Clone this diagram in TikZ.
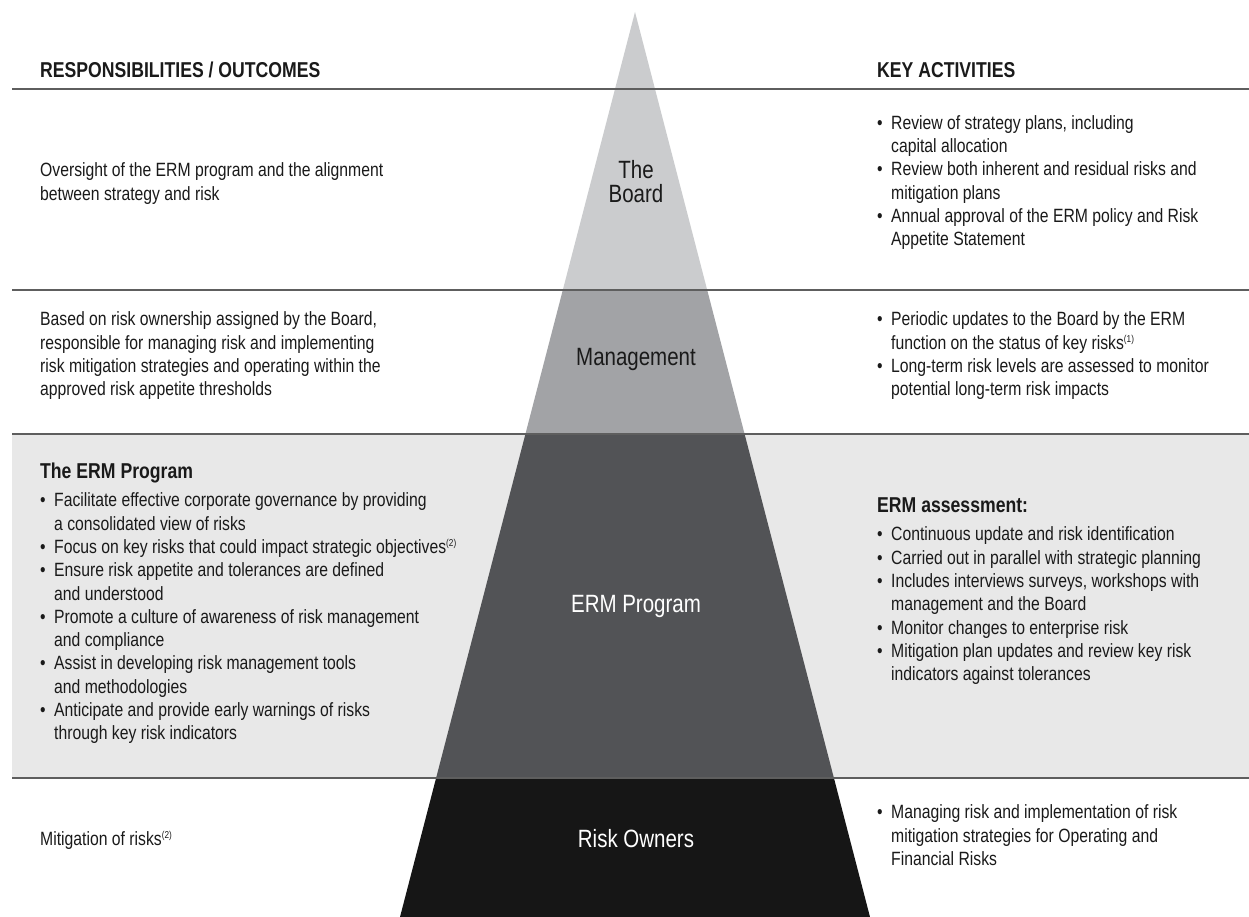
\documentclass[tikz,border=0pt]{standalone}
\usepackage{fontspec}
\setmainfont{Liberation Sans}[FakeStretch=0.82]
\usepackage{tikz}

\definecolor{boardfill}{HTML}{CBCCCE}
\definecolor{mgmtfill}{HTML}{A2A3A6}
\definecolor{ermfill}{HTML}{525356}
\definecolor{ownerfill}{HTML}{161616}
\definecolor{bandfill}{HTML}{E8E8E8}
\definecolor{rulegray}{HTML}{5E5E5E}
\definecolor{inkblack}{HTML}{1A1A1A}

\newcommand\bodyfont{\fontsize{19.2}{23.3}\selectfont}
\newcommand\headfont{\fontsize{21.5}{25}\selectfont\bfseries}
\newcommand\tierfont{\fontsize{25}{24}\selectfont}
\newcommand\bitem{\makebox[14pt][l]{\textbullet}}
\newcommand\bcont{\hspace*{14pt}}
\newcommand\noteref[1]{\raisebox{6.5pt}{\fontsize{10}{10}\selectfont(#1)}}

\begin{document}
\begin{tikzpicture}[x=1pt,y=-1pt,
	colhead/.style={anchor=base west, inner sep=0pt, font=\headfont, text=inkblack},
	body/.style={anchor=north west, inner sep=0pt, align=left, font=\bodyfont, text=inkblack, execute at begin node=\strut},
	tier/.style={inner sep=0pt, align=center, font=\tierfont},
	sepline/.style={draw=rulegray, line width=1.3pt}]
	
	% Page
	\useasboundingbox (0,0) rectangle (1249,917);
	\fill[white] (0,0) rectangle (1249,917);
	
	% Fill ERM band
	\fill[bandfill] (12,434) rectangle (1249,778);
	
	% Fill pyramid tiers
	\begin{scope}
		\clip (635,12) -- (870,917) -- (400,917) -- cycle;
		\fill[boardfill] (400,0) rectangle (870,290);
		\fill[mgmtfill] (400,290) rectangle (870,434);
		\fill[ermfill] (400,434) rectangle (870,778);
		\fill[ownerfill] (400,778) rectangle (870,917);
	\end{scope}
	
	% Draw row separators
	\foreach \y in {89,290,434,778}
		\draw[sepline] (12,\y) -- (1249,\y);
	
	% Column headers
	\draw (40,78) node (resphead) [colhead] {RESPONSIBILITIES / OUTCOMES};
	\draw (877,78) node (keyhead) [colhead] {KEY ACTIVITIES};
	
	% Tier labels
	\draw (636,182) node (board) [tier, text=inkblack] {The\\Board};
	\draw (636,365) node (mgmt) [tier, anchor=base, text=inkblack] {Management};
	\draw (636,612) node (erm) [tier, anchor=base, text=white] {ERM Program};
	\draw (636,847) node (owners) [tier, anchor=base, text=white] {Risk Owners};
	
	% The Board row
	\draw (40,162.7) node (boardresp) [body] {Oversight of the ERM program and the alignment\\between strategy and risk};
	\draw (877,115.2) node (boardact) [body] {\bitem Review of strategy plans, including\\\bcont capital allocation\\\bitem Review both inherent and residual risks and\\\bcont mitigation plans\\\bitem Annual approval of the ERM policy and Risk\\\bcont Appetite Statement};
	
	% Management row
	\draw (40,311.7) node (mgmtresp) [body] {Based on risk ownership assigned by the Board,\\responsible for managing risk and implementing\\risk mitigation strategies and operating within the\\approved risk appetite thresholds};
	\draw (877,311.7) node (mgmtact) [body] {\bitem Periodic updates to the Board by the ERM\\\bcont function on the status of key risks\noteref{1}\\\bitem Long-term risk levels are assessed to monitor\\\bcont potential long-term risk impacts};
	
	% ERM Program row
	\draw (40,478) node (ermhead) [colhead] {The ERM Program};
	\draw (40,492.7) node (ermresp) [body] {\bitem Facilitate effective corporate governance by providing\\\bcont a consolidated view of risks\\\bitem Focus on key risks that could impact strategic objectives\noteref{2}\\\bitem Ensure risk appetite and tolerances are defined\\\bcont and understood\\\bitem Promote a culture of awareness of risk management\\\bcont and compliance\\\bitem Assist in developing risk management tools\\\bcont and methodologies\\\bitem Anticipate and provide early warnings of risks\\\bcont through key risk indicators};
	\draw (877,512) node (asshead) [colhead] {ERM assessment:};
	\draw (877,526.7) node (ermact) [body] {\bitem Continuous update and risk identification\\\bitem Carried out in parallel with strategic planning\\\bitem Includes interviews surveys, workshops with\\\bcont management and the Board\\\bitem Monitor changes to enterprise risk\\\bitem Mitigation plan updates and review key risk\\\bcont indicators against tolerances};
	
	% Risk Owners row
	\draw (40,828.7) node (ownresp) [body] {Mitigation of risks\noteref{2}};
	\draw (877,804.7) node (ownact) [body] {\bitem Managing risk and implementation of risk\\\bcont mitigation strategies for Operating and\\\bcont Financial Risks};
	
\end{tikzpicture}
\end{document}
